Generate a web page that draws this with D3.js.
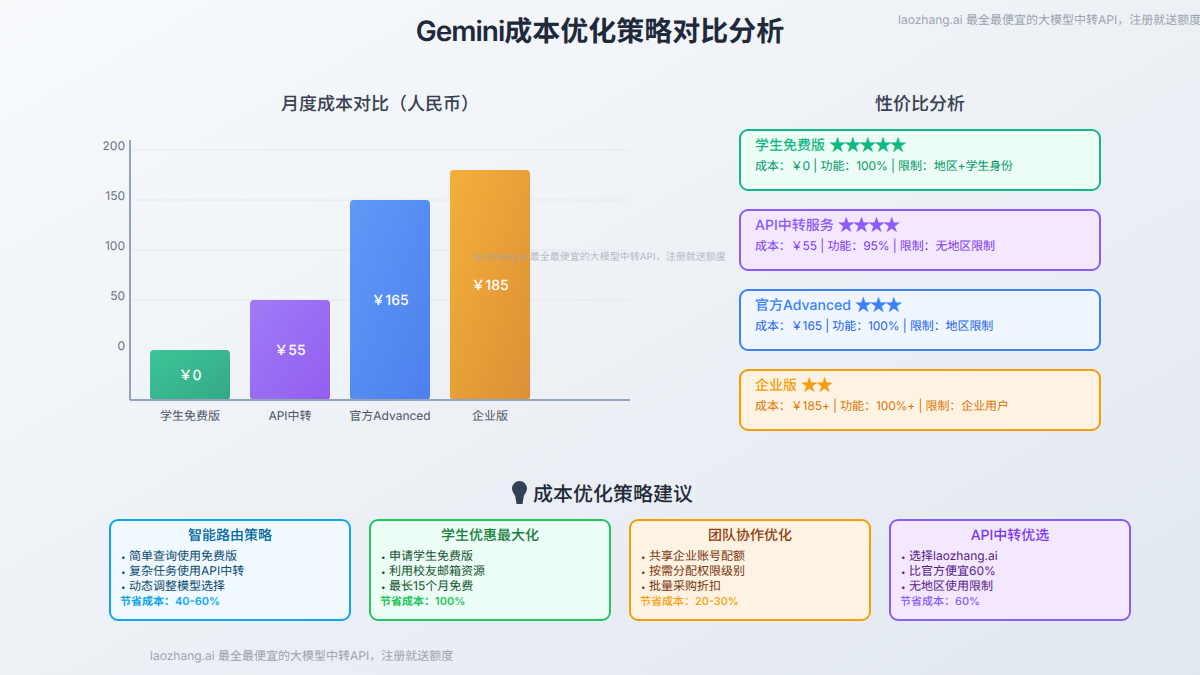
<!DOCTYPE html>
<html><head><meta charset="utf-8">
<script src="https://cdnjs.cloudflare.com/ajax/libs/d3/7.8.5/d3.min.js"></script>
<style>
html,body{margin:0;padding:0;width:1200px;height:675px;overflow:hidden}
svg{display:block}
text{font-family:Inter,"Noto Sans CJK SC",sans-serif;text-rendering:geometricPrecision}
</style></head><body>
<script>
const categories=["学生免费版","API中转","官方Advanced","企业版"];
const barValues=[0,50,150,180];
const barLabels=["￥0","￥55","￥165","￥185"];
const yTicks=[0,50,100,150,200];
const gridTicks=[50,100,150,200];
const barColors=[["#10b981","#059669"],["#8b5cf6","#7c3aed"],["#3b82f6","#2563eb"],["#f59e0b","#d97706"]];

const ratingNames=["学生免费版","API中转服务","官方Advanced","企业版"];
const ratingStars=[5,4,3,2];
const ratingDetails=["成本：￥0 | 功能：100% | 限制：地区+学生身份","成本：￥55 | 功能：95% | 限制：无地区限制","成本：￥165 | 功能：100% | 限制：地区限制","成本：￥185+ | 功能：100%+ | 限制：企业用户"];
const ratingStroke=["#10b981","#8b5cf6","#3b82f6","#f59e0b"];
const ratingFill=["#ecfdf5","#f3e8ff","#eff6ff","#fef3e2"];
const ratingText=["#10b981","#8b5cf6","#3b82f6","#f59e0b"];
const ratingDetailText=["#059669","#7c3aed","#2563eb","#d97706"];

const tipTitles=["智能路由策略","学生优惠最大化","团队协作优化","API中转优选"];
const tipItems=[["简单查询使用免费版","复杂任务使用API中转","动态调整模型选择"],["申请学生免费版","利用校友邮箱资源","最长15个月免费"],["共享企业账号配额","按需分配权限级别","批量采购折扣"],["选择laozhang.ai","比官方便宜60%","无地区使用限制"]];
const tipSavings=["节省成本：40-60%","节省成本：100%","节省成本：20-30%","节省成本：60%"];
const tipStroke=["#0ea5e9","#22c55e","#f59e0b","#8b5cf6"];
const tipFill=["#f0f9ff","#ecfdf5","#fef3e2","#f3e8ff"];
const tipTitleColor=["#0369a1","#15803d","#92400e","#7c3aed"];
const tipItemColor=["#0c4a6e","#14532d","#78350f","#581c87"];
const watermark="laozhang.ai 最全最便宜的大模型中转API，注册就送额度";

const svg=d3.select("body").append("svg").attr("width",1200).attr("height",675);
const defs=svg.append("defs");
const bgG=defs.append("linearGradient").attr("id","bg").attr("x1","0%").attr("y1","0%").attr("x2","100%").attr("y2","100%");
bgG.append("stop").attr("offset","0%").attr("stop-color","#f8fafc");
bgG.append("stop").attr("offset","100%").attr("stop-color","#e2e8f0");
barColors.forEach((c,i)=>{
  const g=defs.append("linearGradient").attr("id","bar"+i).attr("x1","0%").attr("y1","0%").attr("x2","100%").attr("y2","100%");
  g.append("stop").attr("offset","0%").attr("stop-color",c[0]);
  g.append("stop").attr("offset","100%").attr("stop-color",c[1]);
});
svg.append("rect").attr("width",1200).attr("height",675).attr("fill","url(#bg)");

const label=(x,y,t,size,fill,weight,anchor)=>svg.append("text").attr("x",x).attr("y",y).text(t)
  .attr("font-size",size).attr("fill",fill).attr("font-weight",weight||400).attr("text-anchor",anchor||"start");

const mainTitle=label(600,41,"",28,"#1e293b",600,"middle");
mainTitle.append("tspan").attr("letter-spacing",-1).text("Gemini");
mainTitle.append("tspan").text("成本优化策略对比分析");
label(898,24,watermark,12,"#9ca3af");
label(380,110,"月度成本对比（人民币）",18,"#374151",500,"middle");
label(920,110,"性价比分析",18,"#374151",500,"middle");

// chart
const y=d3.scaleLinear().domain([-50,200]).range([400,150]);
const x=d3.scaleBand().domain(categories).range([140,540]).paddingInner(0.2).paddingOuter(0.1);
svg.append("g").selectAll("line").data(gridTicks).join("line")
  .attr("x1",130).attr("x2",630).attr("y1",d=>y(d)).attr("y2",d=>y(d)).attr("stroke","#e2e8f0").attr("stroke-width",1).attr("opacity",.8);
const yAxis=svg.append("g").attr("transform","translate(130,-1)")
  .call(d3.axisLeft(y).tickValues(yTicks).tickSize(0).tickPadding(5));
yAxis.select(".domain").remove();
yAxis.selectAll("text").attr("dy",0).attr("font-size",12).attr("fill","#6b7280").style("font-family",'Inter,"Noto Sans CJK SC",sans-serif');
svg.append("g").selectAll("rect").data(categories).join("rect")
  .attr("x",d=>x(d)).attr("y",(d,i)=>y(barValues[i])).attr("width",x.bandwidth())
  .attr("height",(d,i)=>y(-50)-y(barValues[i])).attr("rx",4).attr("fill",(d,i)=>`url(#bar${i})`).attr("opacity",.8);
svg.append("line").attr("x1",130).attr("x2",130).attr("y1",140).attr("y2",400).attr("stroke","#94a3b8").attr("stroke-width",2);
svg.append("line").attr("x1",130).attr("x2",630).attr("y1",400).attr("y2",400).attr("stroke","#94a3b8").attr("stroke-width",2);
svg.append("g").selectAll("text").data(categories).join("text")
  .attr("x",d=>x(d)+x.bandwidth()/2).attr("y",(d,i)=>(y(barValues[i])+y(-50))/2+5)
  .attr("text-anchor","middle").attr("font-size",14).attr("font-weight",500).attr("fill","#fff").text((d,i)=>barLabels[i]);
svg.append("g").selectAll("text").data(categories).join("text")
  .attr("x",d=>x(d)+x.bandwidth()/2).attr("y",420).attr("text-anchor","middle").attr("font-size",12).attr("fill","#4b5563").text(d=>d);
label(473,260,watermark,10,"#9ca3af").attr("opacity",.7);

// rating cards
ratingNames.forEach((n,i)=>{
  const top=130+i*80;
  svg.append("rect").attr("x",740).attr("y",top).attr("width",360).attr("height",60).attr("rx",8)
    .attr("fill",ratingFill[i]).attr("stroke",ratingStroke[i]).attr("stroke-width",2);
  const t=label(755,top+20,n,14,ratingText[i],500);
  t.append("tspan").attr("dx",2.5).attr("dy",1.5).attr("font-size",19).attr("letter-spacing",-4.7).text("★".repeat(ratingStars[i]));
  label(755,top+40,ratingDetails[i],12,ratingDetailText[i]).attr("letter-spacing",-0.1);
});

// tips
svg.append("path").attr("fill","#334155")
  .attr("d","M512 488.5a7.5 7.5 0 0 1 15 0c0 3.2-2 5-3.2 7.5l-1.3 8h-6l-1.3-8c-1.2-2.5-3.2-4.3-3.2-7.5z");
label(533,501,"成本优化策略建议",20,"#1f2937",500);
tipTitles.forEach((n,i)=>{
  const left=110+i*260;
  svg.append("rect").attr("x",left).attr("y",520).attr("width",240).attr("height",100).attr("rx",8)
    .attr("fill",tipFill[i]).attr("stroke",tipStroke[i]).attr("stroke-width",2);
  label(left+120,540,n,14,tipTitleColor[i],500,"middle");
  tipItems[i].forEach((s,j)=>{
    label(left+11,560+j*15,"•",8,tipItemColor[i]);
    label(left+19,560+j*15,s,12,tipItemColor[i]);
  });
  label(left+10,605,tipSavings[i],11,tipStroke[i],i<2?600:500);
});
label(150,660,watermark,12,"#9ca3af");
</script>
</body></html>
